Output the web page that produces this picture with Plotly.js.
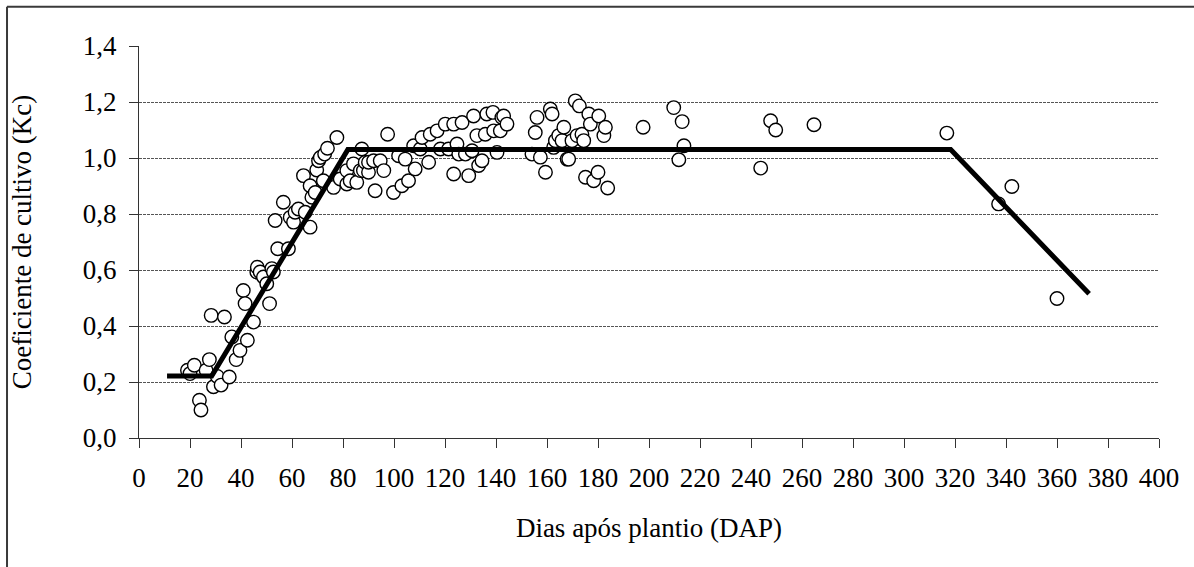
<!DOCTYPE html>
<html>
<head>
<meta charset="utf-8">
<script src="https://cdn.plot.ly/plotly-3.0.1.min.js"></script>
<style>
html,body{margin:0;padding:0;background:#fff;}
#chart{width:1194px;height:567px;}
</style>
</head>
<body>
<div id="chart"></div>
<script>
// Observed Kc points (days after planting, Kc)
const obsDays = [19.0,20.0,21.7,23.7,24.3,26.3,27.6,28.3,29.2,30.7,32.2,33.5,35.4,36.4,38.1,39.6,40.9,41.6,42.5,44.9,46.2,46.4,47.5,48.8,50.1,51.2,52.1,52.7,53.4,54.4,56.6,58.6,59.3,60.6,61.2,62.5,64.5,65.2,67.1,67.1,67.8,69.1,69.7,70.4,71.1,72.3,72.8,73.9,76.3,77.6,78.9,81.5,81.5,82.8,84.1,85.4,86.8,87.4,88.0,88.7,90.0,90.0,92.0,92.6,94.6,96.0,97.5,99.8,101.8,103.1,104.4,105.7,107.7,108.3,110.3,111.0,113.6,114.2,116.9,118.2,120.1,121.4,123.4,123.4,124.7,125.4,126.7,128.0,129.3,130.6,131.2,132.5,133.2,134.5,135.8,136.4,138.8,139.1,140.4,141.7,142.3,143.0,144.3,154.1,155.4,156.1,157.4,159.4,161.3,162.0,162.6,163.3,164.6,165.9,166.6,167.9,168.5,169.8,171.1,171.8,172.7,173.7,174.4,175.1,176.4,177.0,178.3,180.0,180.3,182.3,182.9,183.8,197.7,209.7,211.7,213.0,213.7,243.8,247.7,249.7,264.7,316.8,337.1,342.3,360.0];
const obsKc = [0.242,0.230,0.260,0.135,0.100,0.242,0.280,0.438,0.183,0.220,0.189,0.432,0.218,0.361,0.280,0.313,0.527,0.480,0.349,0.414,0.593,0.610,0.593,0.575,0.551,0.480,0.605,0.593,0.777,0.676,0.842,0.676,0.788,0.771,0.806,0.818,0.937,0.806,0.753,0.901,0.860,0.877,0.957,0.990,1.002,0.919,1.014,1.035,0.895,1.073,0.925,0.955,0.907,0.919,0.979,0.913,0.955,1.032,0.955,0.985,0.949,0.985,0.990,0.883,0.990,0.955,1.085,0.877,1.008,0.901,0.996,0.919,1.044,0.961,1.032,1.073,0.985,1.085,1.097,1.032,1.121,1.032,1.121,0.943,1.050,1.014,1.127,1.014,0.937,1.026,1.150,1.080,0.973,0.990,1.085,1.157,1.163,1.097,1.020,1.097,1.145,1.150,1.121,1.014,1.091,1.145,1.003,0.949,1.175,1.157,1.038,1.062,1.080,1.062,1.110,0.996,0.996,1.062,1.204,1.080,1.186,1.085,1.062,0.931,1.157,1.121,0.919,0.949,1.150,1.080,1.110,0.893,1.110,1.180,0.994,1.130,1.044,0.964,1.133,1.100,1.119,1.089,0.836,0.898,0.498];

// Fitted Kc curve vertices
const fitDays = [11, 28.5, 81.9, 318.3, 372.6];
const fitKc = [0.221, 0.221, 1.03, 1.03, 0.515];

// Tick labels
const xTicks = [0,20,40,60,80,100,120,140,160,180,200,220,240,260,280,300,320,340,360,380,400];
const yTickVals = [0,0.2,0.4,0.6,0.8,1.0,1.2,1.4];
const yTickText = ["0,0","0,2","0,4","0,6","0,8","1,0","1,2","1,4"];

const FONT = "'Liberation Serif', serif";
const FS = 27;

const traces = [
  {
    x: obsDays, y: obsKc, type: "scatter", mode: "markers",
    marker: {symbol: "circle", size: 13.5, color: "#ffffff", line: {color: "#000000", width: 1.4}},
    cliponaxis: false, hoverinfo: "x+y"
  },
  {
    x: fitDays, y: fitKc, type: "scatter", mode: "lines",
    line: {color: "#000000", width: 5}, hoverinfo: "x+y"
  }
];

const layout = {
  width: 1194, height: 567,
  margin: {l: 139, r: 35, t: 46, b: 129},
  paper_bgcolor: "#ffffff", plot_bgcolor: "#ffffff",
  showlegend: false,
  font: {family: FONT, size: FS, color: "#000000"},
  xaxis: {
    range: [0, 400], tickmode: "array", tickvals: xTicks, ticktext: xTicks.map(String),
    showgrid: false, zeroline: false, showline: true, linecolor: "#333333", linewidth: 1,
    ticks: "outside", ticklen: 9, tickcolor: "#333333", tickwidth: 1, ticklabelstandoff: 7,
    tickfont: {family: FONT, size: FS, color: "#000000"},
    title: {text: "Dias após plantio (DAP)", font: {family: FONT, size: FS, color: "#000000"}, standoff: 25},
    fixedrange: true
  },
  yaxis: {
    range: [0, 1.4], tickmode: "array", tickvals: yTickVals, ticktext: yTickText,
    showgrid: true, gridcolor: "#555555", gridwidth: 1, griddash: "3px,1px",
    zeroline: false, showline: true, linecolor: "#333333", linewidth: 1,
    ticks: "outside", ticklen: 9, tickcolor: "#333333", tickwidth: 1, ticklabelstandoff: 7,
    tickfont: {family: FONT, size: FS, color: "#000000"},
    title: {text: "Coeficiente de cultivo (Kc)", font: {family: FONT, size: FS, color: "#000000"}, standoff: 43},
    fixedrange: true
  },
  shapes: [
    {type: "line", xref: "paper", yref: "paper", x0: -0.1294, x1: 1.04, y0: 1.1, y1: 1.1, line: {color: "#3a3a3a", width: 2}},
    {type: "line", xref: "paper", yref: "paper", x0: -0.1294, x1: -0.1294, y0: 1.1, y1: -0.34, line: {color: "#3a3a3a", width: 2}}
  ]
};

Plotly.newPlot("chart", traces, layout, {displayModeBar: false, staticPlot: true});
</script>
</body>
</html>
